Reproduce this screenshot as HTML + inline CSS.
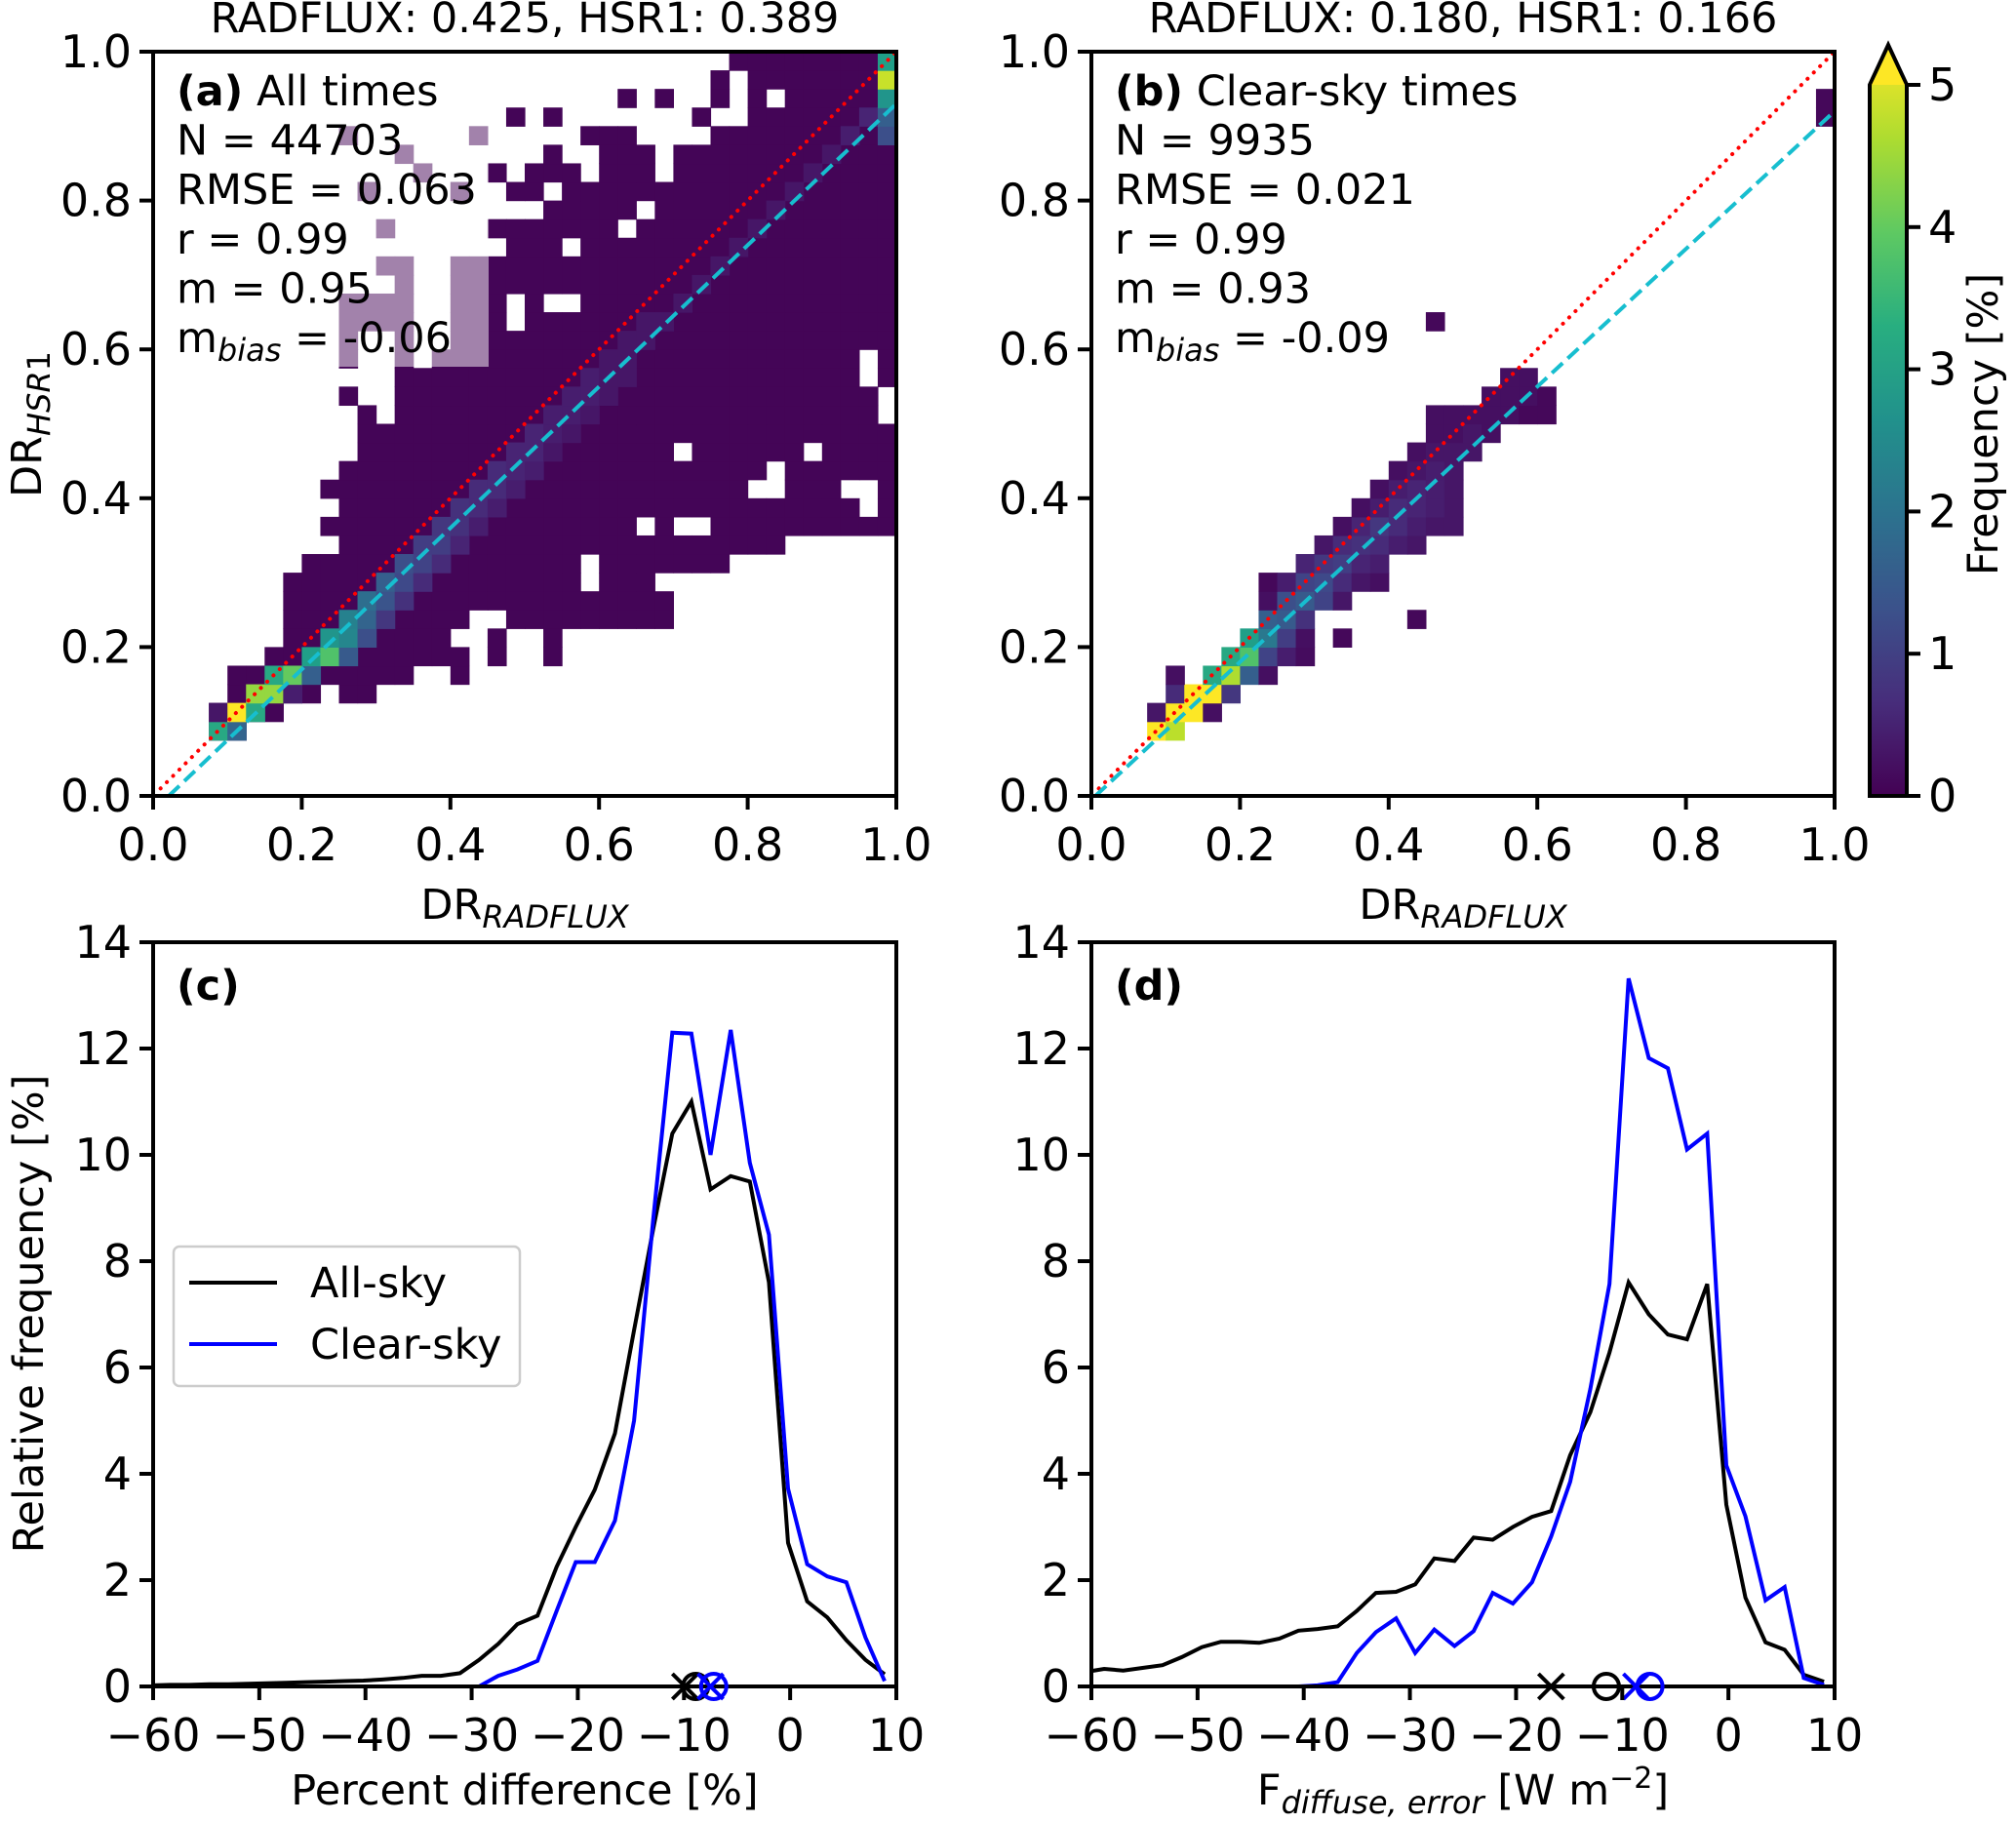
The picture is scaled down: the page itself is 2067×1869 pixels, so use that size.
<!DOCTYPE html>
<html><head><meta charset="utf-8"><style>
html,body{margin:0;padding:0;background:#fff;}
svg{display:block;font-family:"DejaVu Sans","Liberation Sans",sans-serif;}
</style></head><body>
<svg id="fig" width="2067" height="1869" viewBox="0 0 2067 1869" xmlns="http://www.w3.org/2000/svg">
<defs>
<linearGradient id="vir" x1="0" y1="1" x2="0" y2="0">
<stop offset="0" stop-color="#440154"/><stop offset="0.125" stop-color="#472d7b"/><stop offset="0.25" stop-color="#3b528b"/><stop offset="0.375" stop-color="#2c728e"/><stop offset="0.5" stop-color="#21918c"/><stop offset="0.625" stop-color="#28ae80"/><stop offset="0.75" stop-color="#5ec962"/><stop offset="0.875" stop-color="#addc30"/><stop offset="1" stop-color="#fde725"/>
</linearGradient>
</defs>
</svg>
<script>
// ---------- DATA ----------
const rowsA = {3:[[3,4]],4:[[3,6]],5:[[4,8],[10,11]],6:[[4,13],[16,16]],7:[[6,16],[18,18],[21,21]],8:[[7,15],[18,18],[21,21]],9:[[7,16],[19,27]],10:[[7,27]],11:[[7,22],[24,26]],12:[[8,22],[24,30]],13:[[10,33]],14:[[9,25],[27,27],[30,39]],15:[[10,37],[39,39]],16:[[9,31],[34,36],[39,39]],17:[[10,32],[34,39]],18:[[11,27],[29,34],[36,39]],19:[[11,39]],20:[[11,11],[13,38]],21:[[10,10],[13,38]],22:[[13,37],[39,39]],23:[[10,10],[13,13],[15,37],[39,39]],24:[[10,10],[13,13],[16,39]],25:[[10,12],[13,13],[16,18],[20,39]],26:[[10,12],[13,13],[16,18],[20,20],[23,39]],27:[[13,13],[16,39]],28:[[12,13],[16,39]],29:[[19,21],[23,39]],30:[[12,12],[18,24],[26,39]],31:[[21,25],[27,39]],32:[[11,11],[16,16],[19,20],[22,39]],33:[[14,14],[18,18],[20,22],[24,26],[28,39]],34:[[13,13],[21,21],[24,26],[28,39]],35:[[10,10],[17,17],[23,25],[30,39]],36:[[19,19],[21,21],[29,29],[32,39]],37:[[25,25],[27,27],[30,30],[32,32],[34,39]],38:[[30,30],[32,39]],39:[[31,39]]};
const hotA = [[3,3,3.0],[4,3,1.6],[3,4,0.3],[4,4,5],[5,4,3],[5,5,4.2],[6,5,4.2],[7,5,0.4],[6,6,3],[7,6,3.8],[8,6,1.5],[8,7,2.8],[9,7,3.6],[10,7,1.4],[9,8,2.6],[10,8,2.3],[11,8,1.2],[10,9,2.2],[11,9,1.6],[12,9,0.8],[11,10,1.8],[12,10,1.3],[13,10,0.7],[12,11,1.5],[13,11,1.1],[14,11,0.6],[13,12,1.2],[14,12,1.0],[15,12,0.6],[14,13,0.9],[15,13,0.9],[16,13,0.5],[15,14,0.8],[16,14,0.7],[17,14,0.4],[16,15,0.7],[17,15,0.6],[18,15,0.4],[17,16,0.6],[18,16,0.6],[19,16,0.4],[18,17,0.6],[19,17,0.5],[20,17,0.4],[19,18,0.5],[20,18,0.5],[21,18,0.3],[20,19,0.5],[21,19,0.4],[22,19,0.3],[21,20,0.4],[22,20,0.4],[23,20,0.3],[22,21,0.4],[23,21,0.4],[24,21,0.3],[23,22,0.4],[24,22,0.3],[25,22,0.3],[24,23,0.3],[25,23,0.3],[25,24,0.3],[26,24,0.3],[26,25,0.3],[27,25,0.3],[28,26,0.3],[29,27,0.3],[30,28,0.3],[31,29,0.3],[32,30,0.3],[33,31,0.3],[34,32,0.3],[35,33,0.3],[36,34,0.3],[37,35,0.4],[38,36,0.5],[39,35,1.2],[39,36,1.5],[39,37,2.6],[39,38,4.6],[39,39,2.8]];
const cellsB = [[3,3,5],[4,3,4.5],[3,4,0.3],[4,4,5],[5,4,5],[6,4,0.2],[4,5,0.6],[5,5,5],[6,5,5],[7,5,0.8],[4,6,0.2],[6,6,3],[7,6,4.4],[8,6,1.5],[9,6,0.2],[7,7,3],[8,7,3.6],[9,7,1.0],[10,7,0.4],[11,7,0.15],[8,8,2.8],[9,8,2.0],[10,8,0.9],[11,8,0.2],[13,8,0.1],[9,9,1.5],[10,9,1.4],[11,9,0.7],[17,9,0.1],[9,10,0.2],[10,10,1.2],[11,10,1.4],[12,10,1.0],[13,10,0.3],[9,11,0.1],[10,11,0.4],[11,11,1.0],[12,11,1.1],[13,11,0.6],[14,11,0.3],[15,11,0.2],[11,12,0.5],[12,12,0.8],[13,12,0.9],[14,12,0.5],[15,12,0.4],[12,13,0.3],[13,13,0.6],[14,13,0.7],[15,13,0.6],[16,13,0.4],[17,13,0.3],[13,14,0.2],[14,14,0.5],[15,14,0.8],[16,14,0.6],[17,14,0.4],[18,14,0.3],[19,14,0.3],[14,15,0.2],[15,15,0.4],[16,15,0.6],[17,15,0.5],[18,15,0.4],[19,15,0.3],[15,16,0.2],[16,16,0.4],[17,16,0.5],[18,16,0.4],[19,16,0.3],[16,17,0.2],[17,17,0.3],[18,17,0.4],[19,17,0.3],[17,18,0.2],[18,18,0.3],[19,18,0.3],[20,18,0.3],[18,19,0.2],[19,19,0.2],[20,19,0.3],[21,19,0.2],[18,20,0.2],[19,20,0.2],[20,20,0.2],[21,20,0.2],[22,20,0.2],[23,20,0.1],[24,20,0.1],[21,21,0.2],[22,21,0.2],[23,21,0.2],[24,21,0.1],[22,22,0.2],[23,22,0.2],[18,25,0.1],[39,36,0.1],[39,37,0.1]];
const xC = [-60.2,-58.4,-56.6,-54.7,-52.9,-51.1,-49.3,-47.5,-45.6,-43.8,-42.0,-40.2,-38.4,-36.5,-34.7,-32.9,-31.1,-29.3,-27.5,-25.7,-23.8,-22.0,-20.2,-18.4,-16.5,-14.7,-12.9,-11.1,-9.3,-7.5,-5.6,-3.8,-2.0,-0.2,1.6,3.5,5.3,7.1,8.9];
const allC = [0.02,0.03,0.03,0.04,0.04,0.05,0.06,0.07,0.08,0.09,0.10,0.11,0.13,0.16,0.20,0.20,0.25,0.5,0.8,1.17,1.33,2.25,3.0,3.7,4.76,6.7,8.6,10.4,11.0,9.35,9.6,9.5,7.6,2.7,1.6,1.3,0.87,0.5,0.23];
const clearC = [0,0,0,0,0,0,0,0,0,0,0,0,0,0,0,0,0,0.0,0.2,0.32,0.48,1.42,2.34,2.34,3.12,5.0,8.78,12.3,12.28,10.0,12.35,9.85,8.5,3.72,2.3,2.07,1.96,0.92,0.1];
const xD = [-60.6,-58.8,-57.0,-55.1,-53.3,-51.5,-49.6,-47.8,-46.0,-44.2,-42.3,-40.5,-38.7,-36.8,-35.0,-33.2,-31.3,-29.5,-27.7,-25.8,-24.0,-22.2,-20.3,-18.5,-16.7,-14.9,-13.0,-11.2,-9.4,-7.5,-5.7,-3.9,-2.0,-0.2,1.6,3.5,5.3,7.1,9.0];
const allD = [0.27,0.33,0.3,0.35,0.4,0.55,0.74,0.84,0.84,0.82,0.9,1.05,1.08,1.13,1.42,1.76,1.78,1.92,2.41,2.36,2.8,2.76,3.0,3.19,3.3,4.35,5.16,6.28,7.6,7.0,6.62,6.53,7.57,3.42,1.67,0.83,0.69,0.22,0.09];
const clearD = [0,0,0,0,0,0,0,0,0,0,0,0,0.02,0.08,0.63,1.02,1.28,0.63,1.07,0.76,1.04,1.76,1.56,1.96,2.82,3.85,5.6,7.57,13.32,11.82,11.63,10.1,10.4,4.16,3.2,1.62,1.87,0.16,0.03];
const markC = [["x",-9.9,"#000"],["o",-8.9,"#000"],["x",-7.5,"#0000ff"],["o",-7.2,"#0000ff"]];
const markD = [["x",-16.7,"#000"],["o",-11.5,"#000"],["x",-8.7,"#0000ff"],["o",-7.4,"#0000ff"]];
const ticksUnit = ["0.0","0.2","0.4","0.6","0.8","1.0"];
const ticksPct = ["−60","−50","−40","−30","−20","−10","0","10"];
const ticksFreq = ["0","2","4","6","8","10","12","14"];
const ticksCbar = ["0","1","2","3","4","5"];
const slopeA = 0.95, interA = -0.02, slopeB = 0.925, interB = -0.005;

// ---------- HELPERS ----------
const NS = "http://www.w3.org/2000/svg";
const svg = document.getElementById("fig");
const TF = 46, LF = 43;
function mk(tag, attrs, parent){const e=document.createElementNS(NS,tag);for(const k in attrs)e.setAttribute(k,attrs[k]);(parent||svg).appendChild(e);return e;}
const VS=[[68,1,84],[72,40,120],[62,74,137],[49,104,142],[38,130,142],[31,158,137],[53,183,121],[109,205,89],[180,222,44],[253,231,37]];
function vir(v){let t=Math.max(0,Math.min(1,v/5))*(VS.length-1);const i=Math.min(VS.length-2,Math.floor(t)),f=t-i;const c=VS[i].map((a,k)=>Math.round(a+(VS[i+1][k]-a)*f));return `rgb(${c[0]},${c[1]},${c[2]})`;}
function lin(d0,d1,r0,r1){return v=>r0+(v-d0)/(d1-d0)*(r1-r0);}
function txt(s,x,y,size,anchor,parent,name){const t=mk("text",{x:x,y:y,"font-size":size,"text-anchor":anchor||"start"},parent);t.textContent=s;return t;}

const T1=53,B1=816,T2=966,B2=1729;
const PA={L:157,R:919},PB={L:1119,R:1881};

function frame(g,L,R,T,B){
  const r=mk("rect",{x:L,y:T,width:R-L,height:B-T,fill:"none",stroke:"#000","stroke-width":4},g);
  
}
function xticks(g,labels,vals,sx,B,name){
  labels.forEach((lb,k)=>{const x=sx(vals[k]);
    const l=mk("line",{x1:x,y1:B,x2:x,y2:B+14,stroke:"#000","stroke-width":4},g);
    
    txt(lb,x,B+66,TF,"middle",g,name);});
}
function yticks(g,labels,vals,sy,L,name){
  labels.forEach((lb,k)=>{const y=sy(vals[k]);
    const l=mk("line",{x1:L-14,y1:y,x2:L,y2:y,stroke:"#000","stroke-width":4},g);
    
    txt(lb,L-22,y+16,TF,"end",g,name);});
}

// ---------- PANEL A / B (heatmaps) ----------
function heat(P,name,rows,hot,cells,slope,inter,title,lines,overlay){
  const g=mk("g",{});
  const sx=lin(0,1,P.L,P.R), sy=lin(0,1,B1,T1), bw=0.025;
  const cg=mk("g",{},g);
  function cell(i,j,v){const x0=sx(i*bw),x1=sx((i+1)*bw),y0=sy((j+1)*bw),y1=sy(j*bw);
    const r=mk("rect",{x:x0,y:y0,width:x1-x0+0.6,height:y1-y0+0.6,fill:vir(v)},cg);
    }
  if(rows){for(const j in rows){rows[j].forEach(s=>{for(let i=s[0];i<=s[1];i++)cell(i,+j,0.05);});}}
  (hot||[]).forEach(h=>cell(h[0],h[1],h[2]));
  (cells||[]).forEach(h=>cell(h[0],h[1],h[2]));
  const red=mk("line",{x1:sx(0.01),y1:sy(0.01),x2:sx(1),y2:sy(1),stroke:"#ff0000","stroke-width":4,"stroke-dasharray":"0.1 9","stroke-linecap":"round"},g);
  
  const x0=Math.max(0,-inter/slope);
  const cy=mk("line",{x1:sx(x0),y1:sy(slope*x0+inter),x2:sx(1),y2:sy(slope+inter),stroke:"#17becf","stroke-width":4,"stroke-dasharray":"15 7"},g);
  
  if(overlay){const o=mk("rect",{x:172,y:62,width:329,height:314,fill:"#fff","fill-opacity":0.5},g);}
  frame(g,P.L,P.R,T1,B1);
  const v=[0,0.2,0.4,0.6,0.8,1];
  xticks(g,ticksUnit,v,sx,B1,'x-tick-label');
  yticks(g,ticksUnit,v,sy,P.L,'y-tick-label');
  txt(title,(P.L+P.R)/2,33,LF,"middle",g,'panel-title');
  const tg=mk("text",{x:(P.L+P.R)/2,y:942,"font-size":LF,"text-anchor":"middle"},g);
  
  tg.innerHTML='DR<tspan font-size="32" font-style="italic" dy="9">RADFLUX</tspan>';
  const lx=P.L+24;
  lines.forEach((ln,k)=>{const t=mk("text",{x:lx,y:108+50.6*k,"font-size":LF},g);t.innerHTML=ln;});
  return g;
}
heat(PA,'panel-a',rowsA,hotA,null,slopeA,interA,"RADFLUX: 0.425, HSR1: 0.389",
 ['<tspan font-weight="bold">(a)</tspan> All times','N = 44703','RMSE = 0.063','r = 0.99','m = 0.95','m<tspan font-size="32" font-style="italic" dy="9">bias</tspan><tspan dy="-9"> = -0.06</tspan>'],true);
heat(PB,'panel-b',null,null,cellsB,slopeB,interB,"RADFLUX: 0.180, HSR1: 0.166",
 ['<tspan font-weight="bold">(b)</tspan> Clear-sky times','N = 9935','RMSE = 0.021','r = 0.99','m = 0.93','m<tspan font-size="32" font-style="italic" dy="9">bias</tspan><tspan dy="-9"> = -0.09</tspan>'],false);
{const t=mk("text",{transform:"translate(42,435) rotate(-90)","font-size":LF,"text-anchor":"middle"});
 
 t.innerHTML='DR<tspan font-size="32" font-style="italic" dy="9">HSR</tspan><tspan font-size="32">1</tspan>';}

// ---------- COLORBAR ----------
{const g=mk("g",{});
 const L=1917,R=1955,top=87,bot=816,tip=46;
 const p=mk("path",{d:`M${L},${bot} L${L},${top} L${(L+R)/2},${tip} L${R},${top} L${R},${bot} Z`,fill:"url(#vir)",stroke:"#000","stroke-width":4},g);
 
 const tri=mk("path",{d:`M${L+2},${top} L${(L+R)/2},${tip+6} L${R-2},${top} Z`,fill:"#fde725"},g);
 
 const sy=lin(0,5,bot,top);
 ticksCbar.forEach((lb,k)=>{const y=sy(k);const l=mk("line",{x1:R,y1:y,x2:R+14,y2:y,stroke:"#000","stroke-width":4},g);
   
   txt(lb,R+22,y+16,TF,"start",g,'colorbar-tick-label');});
 const t=txt("Frequency [%]",0,0,LF,"middle",g,'colorbar-title');t.setAttribute("transform","translate(2048,435) rotate(-90)");
}

// ---------- PANEL C / D (lines) ----------
function linesPanel(P,name,xs,a,c,marks,label,xlabelHtml){
  const g=mk("g",{});
  const sx=lin(-60,10,P.L,P.R), sy=lin(0,14,B2,T2);
  const cp=mk("clipPath",{id:"clip-"+name},g);mk("rect",{x:P.L,y:T2,width:P.R-P.L,height:B2-T2},cp);
  function series(vals,col,nm){const d=xs.map((x,k)=>(k?"L":"M")+sx(x).toFixed(1)+","+sy(vals[k]).toFixed(1)).join(" ");
    const p=mk("path",{d:d,fill:"none",stroke:col,"stroke-width":4,"stroke-linejoin":"miter","clip-path":`url(#clip-${name})`},g);
    }
  series(a,"#000","all-sky-line");series(c,"#0000ff","clear-sky-line");
  frame(g,P.L,P.R,T2,B2);
  marks.forEach(m=>{const x=sx(m[1]),y=sy(0);let e;
    if(m[0]==="o"){e=mk("circle",{cx:x,cy:y,r:13,fill:"none",stroke:m[2],"stroke-width":4},g);}
    else{e=mk("path",{d:`M${x-13},${y-13}L${x+13},${y+13}M${x-13},${y+13}L${x+13},${y-13}`,stroke:m[2],"stroke-width":4},g);}
    });
  xticks(g,ticksPct,[-60,-50,-40,-30,-20,-10,0,10],sx,B2,'x-tick-label');
  yticks(g,ticksFreq,[0,2,4,6,8,10,12,14],sy,P.L,'y-tick-label');
  txt(label,P.L+24,1025,LF,"start",g,'panel-label').setAttribute("font-weight","bold");
  const t=mk("text",{x:(P.L+P.R)/2,y:1850,"font-size":LF,"text-anchor":"middle"},g);
  t.innerHTML=xlabelHtml;
}
linesPanel(PA,'panel-c',xC,allC,clearC,markC,"(c)","Percent difference [%]");
linesPanel(PB,'panel-d',xD,allD,clearD,markD,"(d)",'F<tspan font-size="32" font-style="italic" dy="9">diffuse, error</tspan><tspan dy="-9"> [W m</tspan><tspan font-size="30" dy="-17">−2</tspan><tspan dy="17">]</tspan>');
{const t=txt("Relative frequency [%]",0,0,LF,"middle",svg,'y-axis-title');t.setAttribute("transform","translate(44,1347) rotate(-90)");}

// legend
{const g=mk("g",{});
 const b=mk("rect",{x:178,y:1278,width:355,height:143,rx:6,fill:"#fff",stroke:"#cccccc","stroke-width":2.5},g);
 
 [["All-sky","#000",1315],["Clear-sky","#0000ff",1378]].forEach(e=>{
   const l=mk("line",{x1:194,y1:e[2],x2:284,y2:e[2],stroke:e[1],"stroke-width":4},g);
   
   txt(e[0],318,e[2]+15,LF,"start",g,'legend-entry');});
}
</script>
</body></html>
